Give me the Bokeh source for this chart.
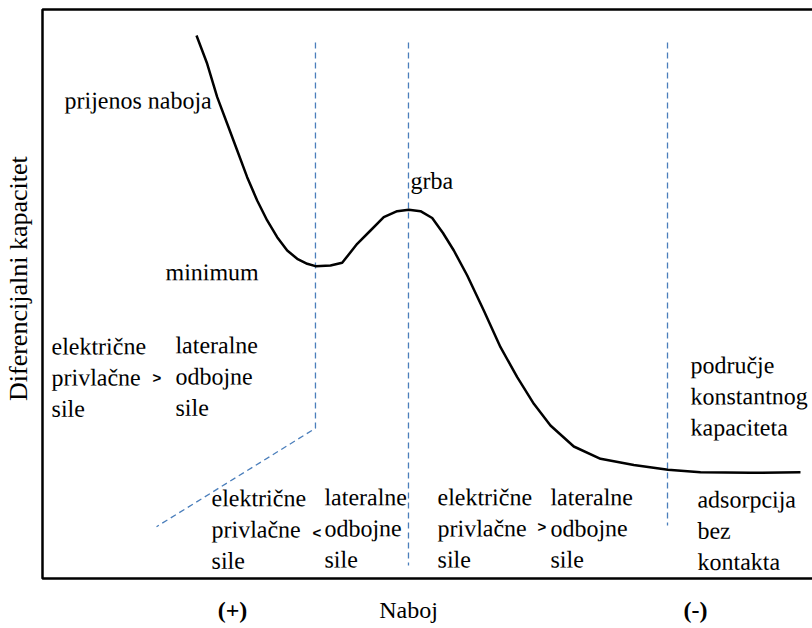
import math
from bokeh.plotting import figure
from bokeh.models import Range1d, BoxAnnotation
from bokeh.core.properties import value
from bokeh.embed import file_html
from bokeh.resources import INLINE

# ---- data (arbitrary units) ----
charge = [20.0, 21.39, 22.69, 23.99, 25.29, 26.58, 27.88, 29.18, 30.48, 31.78, 33.08,
          34.38, 35.45, 37.40, 38.92, 40.87, 42.60, 44.32, 46.06, 47.57, 49.09, 50.61,
          52.01, 53.42, 55.16, 57.31, 59.48, 61.65, 63.81, 65.97, 69.00, 72.47, 76.79,
          81.23, 85.45, 91.95, 98.44]
capacitance = [95.43, 90.46, 84.59, 79.91, 75.22, 70.53, 66.43, 62.92, 59.98, 57.64, 56.19,
               55.31, 54.89, 55.01, 55.48, 58.82, 61.16, 63.50, 64.55, 64.80, 64.55, 63.36,
               60.72, 57.64, 53.25, 47.10, 40.65, 35.38, 30.70, 26.89, 23.20, 21.04, 19.95,
               19.10, 18.68, 18.58, 18.68]

# boundary (dashed) lines
boundary1_x = [35.45, 35.45, 14.81]
boundary1_y = [94.2, 26.4, 9.1]
boundary2_x = [47.53, 47.53]
boundary2_y = [94.2, 2.3]
boundary3_x = [81.17, 81.17]
boundary3_y = [94.2, 9.3]

# annotation texts inside the plot
note_texts = ["prijenos naboja", "minimum", "grba",
              "električne\nprivlačne\nsile", "lateralne\nodbojne\nsile",
              "električne\nprivlačne\nsile", "lateralne\nodbojne\nsile",
              "električne\nprivlačne\nsile", "lateralne\nodbojne\nsile",
              "adsorpcija\nbez\nkontakta", "područje\nkonstantnog\nkapaciteta"]
note_x = [2.86, 15.97, 47.79, 1.17, 17.27, 21.95, 36.62, 51.30, 65.97, 85.06, 84.16]
note_y = [84.0, 53.8, 69.9, 35.3, 35.5, 8.6, 8.8, 8.8, 8.8, 8.4, 32.0]

# comparison signs
sign_texts = [">", "<", ">"]
sign_x = [14.29, 35.06, 64.29]
sign_y = [35.3, 8.1, 9.1]

# axis texts
x_labels = ["(+)", "Naboj", "(-)"]
x_label_pos = [24.68, 47.53, 84.81]
x_label_style = ["bold", "normal", "bold"]
x_label_y = -5.62
y_title = "Diferencijalni kapacitet"
y_title_x = -3.12
y_title_y = 52.7

# axis frame limits (data units)
X0, X1 = 0.0, 100.0
Y0, Y1 = 0.0, 100.0

FS = "24px"

p = figure(width=812, height=628,
           x_range=Range1d(-5.4545, 100.0), y_range=Range1d(-8.787, 101.58),
           output_backend="svg", toolbar_location=None,
           x_axis_type=None, y_axis_type=None,
           min_border=0, min_border_left=0, min_border_right=0,
           min_border_top=0, min_border_bottom=0)
p.outline_line_color = None
p.grid.visible = False
p.background_fill_color = "white"
p.border_fill_color = "white"

# frame: left, top and bottom lines (right side lies outside the view)
p.add_layout(BoxAnnotation(left=X0, right=X1 + 5, bottom=Y0, top=Y1,
                           fill_color=None, fill_alpha=0,
                           line_color="black", line_alpha=1.0, line_width=2.5))

dash_col = "#4a7ebb"
for bx, by in [(boundary1_x, boundary1_y), (boundary2_x, boundary2_y), (boundary3_x, boundary3_y)]:
    p.line(bx, by, line_color=dash_col, line_width=1.3, line_dash="6 4")

p.line(charge, capacitance, line_color="black", line_width=2.5, line_join="round")

p.text(x=note_x, y=note_y, text=note_texts, angle=0.001,
       text_font=value("serif"), text_font_size=FS,
       text_align="left", text_baseline="middle", text_line_height=1.2, text_color="black")

p.text(x=sign_x, y=sign_y, text=sign_texts, text_font=value("sans-serif"),
       text_font_size="15px", text_font_style="bold",
       text_align="left", text_baseline="middle", text_color="black")

for t, x, s in zip(x_labels, x_label_pos, x_label_style):
    p.text(x=[x], y=[x_label_y], text=[t], angle=2 * math.pi, text_font=value("serif"),
           text_font_size=FS, text_font_style=s,
           text_align="center", text_baseline="middle", text_color="black")

p.text(x=[y_title_x], y=[y_title_y], text=[y_title], angle=math.pi / 2,
       text_font=value("serif"), text_font_size="26px",
       text_align="center", text_baseline="middle", text_color="black")

open("out.html", "w").write(file_html(p, INLINE))
